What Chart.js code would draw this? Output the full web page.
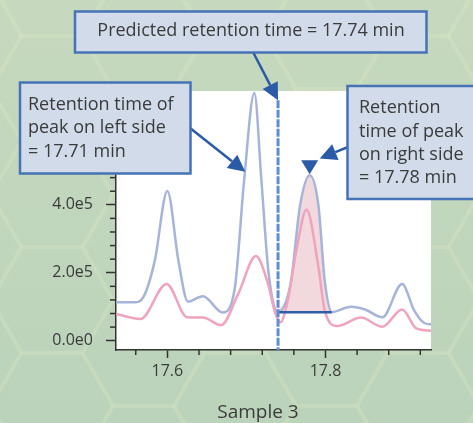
<!DOCTYPE html>
<html>
<head>
<meta charset="utf-8">
<script src="https://cdn.jsdelivr.net/npm/chart.js@4.4.1/dist/chart.umd.min.js"></script>
<style>
  html, body { margin: 0; padding: 0; background: #c2d6bc; }
  #wrap { width: 473px; height: 423px; }
</style>
</head>
<body>
<div id="wrap"><canvas id="chart" width="473" height="423"></canvas></div>
<script>
// Chromatogram for sample 3: retention time (min) vs intensity
const sampleLabel = 'Sample 3';
const predictedTime = 17.74;
const leftPeakTime = 17.71;
const rightPeakTime = 17.78;

const blueTimes = [17.535, 17.558, 17.570, 17.584, 17.600, 17.614, 17.626, 17.645, 17.670, 17.685,
  17.697, 17.710, 17.719, 17.728, 17.740, 17.756, 17.768, 17.780, 17.791, 17.799,
  17.808, 17.832, 17.850, 17.872, 17.897, 17.912, 17.925, 17.934];
const blueIntensity = [113000, 113000, 130000, 235000, 441000, 235000, 115000, 131000, 83000, 150000,
  470000, 729000, 470000, 200000, 84000, 170000, 400000, 487000, 400000, 178000,
  84000, 100000, 92000, 69000, 167000, 90000, 52000, 48000];

const pinkTimes = [17.535, 17.566, 17.599, 17.625, 17.645, 17.668, 17.690, 17.712, 17.727, 17.736,
  17.743, 17.752, 17.764, 17.776, 17.791, 17.799, 17.815, 17.845, 17.872, 17.897, 17.915, 17.934];
const pinkIntensity = [79000, 64000, 167000, 69000, 68000, 46000, 140000, 249000, 170000, 85000,
  54000, 115000, 276000, 386000, 218000, 90000, 43000, 68000, 41000, 92000, 36000, 29000];

// integrated region of the right-hand peak
const integrationStart = 17.74;
const integrationEnd = 17.808;
const integrationBase = 84000;

const xMajorTicks = [17.6, 17.8];
const xMinorTicks = [17.56, 17.64, 17.68, 17.72, 17.76, 17.84, 17.88, 17.92];
const yMajorTicks = [0, 200000, 400000, 600000];
const yMinorTicks = [40000, 80000, 120000, 160000, 240000, 280000, 320000, 360000,
  440000, 480000, 520000, 560000, 640000, 680000, 720000];

const predictedLabel = 'Predicted retention time = 17.74 min';
const leftLabel = ['Retention time of', 'peak on left side', '= 17.71 min'];
const rightLabel = ['Retention', 'time of peak', 'on right side', '= 17.78 min'];

const toPoints = (xs, ys) => xs.map((t, i) => ({ x: t, y: ys[i] }));
const bluePoints = toPoints(blueTimes, blueIntensity);
const pinkPoints = toPoints(pinkTimes, pinkIntensity);
const areaPoints = bluePoints.filter((p) => p.x >= integrationStart && p.x <= integrationEnd);
const rightPeakHeight = blueIntensity[blueTimes.indexOf(rightPeakTime)];

const FONT = '"Open Sans", "Noto Sans", sans-serif';
const TEXT = '#3b3b3b';
const ARROW = '#2b5aa6';

/** green backdrop with faint honeycomb, white plot area */
const backdropPlugin = {
  id: 'backdrop',
  beforeDraw(chart) {
    const { ctx, width, height, chartArea } = chart;
    ctx.save();
    const g = ctx.createLinearGradient(0, 0, 0, height);
    g.addColorStop(0, '#c6d9be');
    g.addColorStop(1, '#bbd3bb');
    ctx.fillStyle = g;
    ctx.fillRect(0, 0, width, height);

    const r = 61;
    const h = r * Math.sqrt(3) / 2;
    ctx.strokeStyle = 'rgba(232, 240, 202, 0.13)';
    ctx.lineWidth = 4;
    for (let i = -1; i <= 5; i++) {
      for (let j = -3; j <= 3; j++) {
        const cx = 52 + i * 1.5 * r;
        const cy = 300 + j * 2 * h + (Math.abs(i) % 2 ? h : 0);
        ctx.beginPath();
        for (let k = 0; k < 6; k++) {
          const a = k * Math.PI / 3;
          const vx = cx + r * Math.cos(a);
          const vy = cy + r * Math.sin(a);
          k ? ctx.lineTo(vx, vy) : ctx.moveTo(vx, vy);
        }
        ctx.closePath();
        ctx.stroke();
      }
    }

    ctx.fillStyle = '#ffffff';
    ctx.fillRect(chartArea.left, chartArea.top, chartArea.right - chartArea.left, chartArea.bottom - chartArea.top);
    ctx.restore();
  },
};

const drawArrow = (ctx, x1, y1, x2, y2, len = 17, half = 8.5) => {
  const a = Math.atan2(y2 - y1, x2 - x1);
  const bx = x2 - len * Math.cos(a);
  const by = y2 - len * Math.sin(a);
  ctx.beginPath();
  ctx.moveTo(x1, y1);
  ctx.lineTo(bx, by);
  ctx.stroke();
  ctx.beginPath();
  ctx.moveTo(x2, y2);
  ctx.lineTo(bx + half * Math.sin(a), by - half * Math.cos(a));
  ctx.lineTo(bx - half * Math.sin(a), by + half * Math.cos(a));
  ctx.closePath();
  ctx.fill();
};

const drawBox = (ctx, x, y, w, h, lines, tx, ty, lh, align = 'left') => {
  ctx.fillStyle = '#d1dbe9';
  ctx.strokeStyle = '#4672b6';
  ctx.lineWidth = 2.5;
  ctx.fillRect(x, y, w, h);
  ctx.strokeRect(x, y, w, h);
  ctx.fillStyle = TEXT;
  ctx.font = `18px ${FONT}`;
  ctx.textAlign = align;
  ctx.textBaseline = 'middle';
  lines.forEach((s, i) => ctx.fillText(s, tx, ty + i * lh));
};

/** minor ticks, predicted-time marker, callouts and sample caption */
const annotationPlugin = {
  id: 'annotations',
  afterDraw(chart) {
    const { ctx, chartArea, scales: { x, y } } = chart;
    ctx.save();

    ctx.strokeStyle = '#333';
    ctx.lineWidth = 1.5;
    xMinorTicks.forEach((v) => {
      const p = x.getPixelForValue(v);
      ctx.beginPath(); ctx.moveTo(p, chartArea.bottom); ctx.lineTo(p, chartArea.bottom + 5); ctx.stroke();
    });
    yMinorTicks.forEach((v) => {
      const p = y.getPixelForValue(v);
      ctx.beginPath(); ctx.moveTo(chartArea.left, p); ctx.lineTo(chartArea.left - 6, p); ctx.stroke();
    });

    const px = x.getPixelForValue(predictedTime);
    const markerTop = y.getPixelForValue(708000);
    ctx.strokeStyle = '#5f8cd2';
    ctx.lineWidth = 3;
    ctx.setLineDash([8, 1.5]);
    ctx.beginPath(); ctx.moveTo(px, markerTop); ctx.lineTo(px, chartArea.bottom); ctx.stroke();
    ctx.setLineDash([]);

    ctx.strokeStyle = ARROW;
    ctx.fillStyle = ARROW;
    ctx.lineWidth = 2.5;
    drawArrow(ctx, 253, 52, px, markerTop);
    drawArrow(ctx, 190, 128, x.getPixelForValue(leftPeakTime) - 9, y.getPixelForValue(497000));
    drawArrow(ctx, 348, 147, x.getPixelForValue(rightPeakTime) + 10, y.getPixelForValue(536000));

    // marker sitting on the right-hand peak
    const rx = x.getPixelForValue(rightPeakTime);
    const ry = y.getPixelForValue(rightPeakHeight) - 1;
    ctx.beginPath();
    ctx.moveTo(rx, ry);
    ctx.lineTo(rx - 8.5, ry - 14);
    ctx.lineTo(rx + 8.5, ry - 14);
    ctx.closePath();
    ctx.fill();

    drawBox(ctx, 75, 11.5, 351.5, 41, [predictedLabel], 251, 30.5, 0, 'center');
    drawBox(ctx, 20, 82.5, 170.5, 91, leftLabel, 28, 104.5, 23.8);
    drawBox(ctx, 347.5, 86, 140, 113, rightLabel, 359, 108, 23.4);

    ctx.fillStyle = TEXT;
    ctx.font = `19px ${FONT}`;
    ctx.textAlign = 'center';
    ctx.textBaseline = 'middle';
    ctx.fillText(sampleLabel, 258, 413);
    ctx.restore();
  },
};

new Chart(document.getElementById('chart'), {
  type: 'line',
  data: {
    datasets: [
      {
        data: areaPoints,
        borderWidth: 0,
        backgroundColor: '#f2d9dd',
        fill: { value: integrationBase },
        cubicInterpolationMode: 'monotone',
        pointRadius: 0,
        order: 4,
      },
      {
        data: bluePoints,
        borderColor: '#a5b4d8',
        borderWidth: 2.5,
        cubicInterpolationMode: 'monotone',
        pointRadius: 0,
        fill: false,
        order: 3,
      },
      {
        data: pinkPoints,
        borderColor: '#f0a3bd',
        borderWidth: 2.5,
        cubicInterpolationMode: 'monotone',
        pointRadius: 0,
        fill: false,
        order: 2,
      },
      {
        data: [{ x: integrationStart, y: integrationBase }, { x: integrationEnd, y: integrationBase }],
        borderColor: '#2f5ea8',
        borderWidth: 2.5,
        pointRadius: 0,
        fill: false,
        order: 1,
      },
    ],
  },
  options: {
    responsive: false,
    animation: false,
    events: [],
    layout: { padding: { left: 0, top: 91, right: 42, bottom: 0 } },
    plugins: { legend: { display: false }, tooltip: { enabled: false } },
    scales: {
      x: {
        type: 'linear',
        min: 17.535,
        max: 17.9335,
        afterBuildTicks: (s) => { s.ticks = xMajorTicks.map((v) => ({ value: v })); },
        afterFit: (s) => { s.height = 73; },
        grid: { drawOnChartArea: false, tickLength: 8, tickColor: '#333', tickWidth: 1.5 },
        border: { display: true, color: '#333', width: 1.5 },
        ticks: {
          color: TEXT,
          font: { family: FONT, size: 16 },
          padding: 4,
          maxRotation: 0,
          callback: (v) => v.toFixed(1),
        },
      },
      y: {
        type: 'linear',
        min: -27400,
        max: 735000,
        afterBuildTicks: (s) => { s.ticks = yMajorTicks.map((v) => ({ value: v })); },
        afterFit: (s) => { s.width = 116; },
        grid: { drawOnChartArea: false, tickLength: 10, tickColor: '#333', tickWidth: 1.5 },
        border: { display: true, color: '#333', width: 1.5 },
        ticks: {
          color: TEXT,
          font: { family: FONT, size: 16 },
          padding: 13,
          callback: (v) => v.toExponential(1).replace('+', ''),
        },
      },
    },
  },
  plugins: [backdropPlugin, annotationPlugin],
});
</script>
</body>
</html>
